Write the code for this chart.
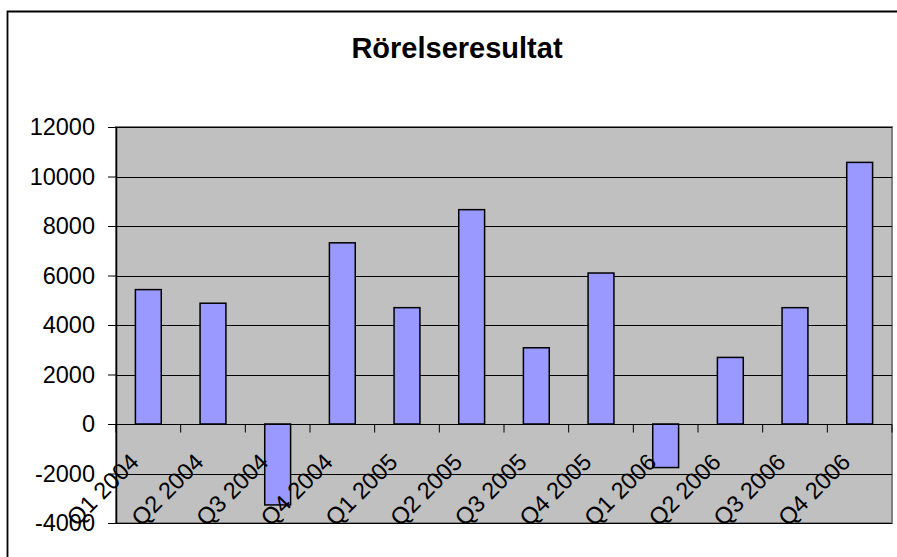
<!DOCTYPE html>
<html>
<head>
<meta charset="utf-8">
<script src="https://cdn.jsdelivr.net/npm/d3@7"></script>
<style>
  html, body { margin: 0; overflow: hidden; background: #fff; }
  svg { display: block; }
  text { font-family: 'Liberation Sans', Arial, sans-serif; }
</style>
</head>
<body>
<div id="chart"></div>
<script>
const quarters = [
  'Q1 2004', 'Q2 2004', 'Q3 2004', 'Q4 2004',
  'Q1 2005', 'Q2 2005', 'Q3 2005', 'Q4 2005',
  'Q1 2006', 'Q2 2006', 'Q3 2006', 'Q4 2006',
];
const result = [5430, 4880, -3270, 7320, 4700, 8660, 3080, 6100, -1760, 2690, 4700, 10570];
const yTicks = [-4000, -2000, 0, 2000, 4000, 6000, 8000, 10000, 12000];
const title = 'Rörelseresultat';

const app = () => {
  const svgWidth = 897;
  const svgHeight = 557;

  const margin = { top: 127, right: 5, bottom: 34, left: 116 };
  const chartWidth = svgWidth - margin.left - margin.right;
  const chartHeight = svgHeight - margin.top - margin.bottom;

  const svg = d3
    .select('#chart')
    .append('svg')
    .attr('width', svgWidth)
    .attr('height', svgHeight);

  // outer chart frame: only the left and top edges fall inside the picture
  svg
    .append('path')
    .attr('d', `M7.5,${svgHeight + 5}V11.5H${svgWidth + 5}`)
    .attr('fill', 'none')
    .attr('stroke', '#000')
    .attr('stroke-width', 1.8);

  svg
    .append('text')
    .attr('x', 457)
    .attr('y', 58)
    .attr('text-anchor', 'middle')
    .attr('font-size', '29px')
    .attr('font-weight', 'bold')
    .text(title);

  const chartGroup = svg
    .append('g')
    .attr('transform', `translate(${margin.left}, ${margin.top})`);

  const xScale = d3
    .scaleBand()
    .domain(quarters)
    .range([0, chartWidth])
    .paddingInner(0.6)
    .paddingOuter(0.3);

  const yScale = d3
    .scaleLinear()
    .domain([-4000, 12000])
    .range([chartHeight, 0]);

  chartGroup
    .append('rect')
    .attr('width', chartWidth)
    .attr('height', chartHeight)
    .attr('fill', '#c0c0c0')
    .attr('stroke', '#808080')
    .attr('stroke-width', 2);

  chartGroup
    .selectAll('.grid')
    .data(yTicks)
    .enter()
    .append('line')
    .classed('grid', true)
    .attr('x1', 0)
    .attr('x2', chartWidth)
    .attr('y1', (d) => Math.round(yScale(d)) + 0.5)
    .attr('y2', (d) => Math.round(yScale(d)) + 0.5)
    .attr('stroke', '#000')
    .attr('stroke-width', 1);

  chartGroup
    .selectAll('.bar')
    .data(result)
    .enter()
    .append('rect')
    .classed('bar', true)
    .attr('x', (d, i) => xScale(quarters[i]))
    .attr('y', (d) => yScale(Math.max(d, 0)))
    .attr('width', xScale.bandwidth())
    .attr('height', (d) => Math.abs(yScale(d) - yScale(0)))
    .attr('fill', '#9999ff')
    .attr('stroke', '#000')
    .attr('stroke-width', 1.5);

  // y axis
  const leftAxis = d3
    .axisLeft(yScale)
    .tickValues(yTicks)
    .tickFormat((d) => String(d))
    .tickSizeInner(8)
    .tickSizeOuter(0)
    .tickPadding(13);

  const yAxis = chartGroup.append('g').classed('y-axis', true).call(leftAxis);
  yAxis.select('.domain').attr('stroke', '#000').attr('stroke-width', 1.5);
  yAxis.selectAll('line').attr('stroke', '#000');
  yAxis
    .selectAll('text')
    .attr('font-size', '23.5px')
    .attr('fill', '#000')
    .attr('font-family', "'Liberation Sans', Arial, sans-serif");

  // x axis along zero, ticks between categories
  const zeroY = Math.round(yScale(0)) + 0.5;
  const xAxis = chartGroup.append('g').classed('x-axis', true);

  xAxis
    .append('line')
    .attr('x1', 0)
    .attr('x2', chartWidth)
    .attr('y1', zeroY)
    .attr('y2', zeroY)
    .attr('stroke', '#000')
    .attr('stroke-width', 1);

  xAxis
    .selectAll('.xtick')
    .data(d3.range(quarters.length + 1))
    .enter()
    .append('line')
    .classed('xtick', true)
    .attr('x1', (i) => (chartWidth / quarters.length) * i)
    .attr('x2', (i) => (chartWidth / quarters.length) * i)
    .attr('y1', zeroY)
    .attr('y2', zeroY + 8)
    .attr('stroke', '#000');

  xAxis
    .selectAll('.xlabel')
    .data(quarters)
    .enter()
    .append('text')
    .classed('xlabel', true)
    .attr('text-anchor', 'end')
    .attr('font-size', '23.5px')
    .attr(
      'transform',
      (d) =>
        `translate(${xScale(d) + xScale.bandwidth() / 2 - 8}, ${zeroY + 39}) rotate(-45)`
    )
    .text((d) => d);
};

app();
</script>
</body>
</html>
